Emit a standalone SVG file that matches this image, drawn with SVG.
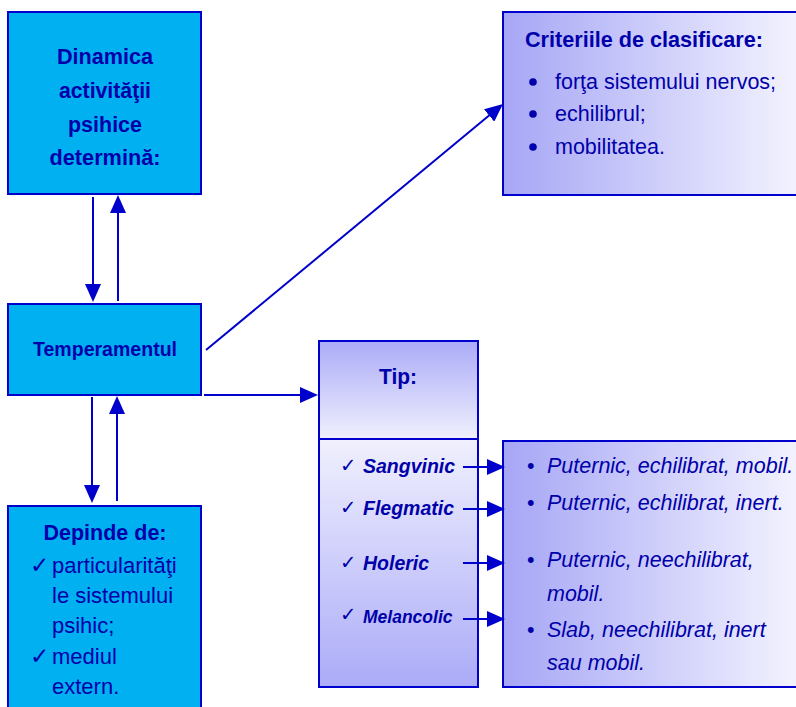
<svg xmlns="http://www.w3.org/2000/svg" width="796" height="707" viewBox="0 0 796 707">
<defs>
<linearGradient id="gh" x1="0" y1="0" x2="1" y2="0"><stop offset="0" stop-color="#A6A6F6"/><stop offset="1" stop-color="#F4F4FF"/></linearGradient>
<linearGradient id="gvDown" x1="0" y1="0" x2="0" y2="1"><stop offset="0" stop-color="#ABABF8"/><stop offset="1" stop-color="#F0F0FE"/></linearGradient>
<linearGradient id="gvUp" x1="0" y1="0" x2="0" y2="1"><stop offset="0" stop-color="#F0F0FE"/><stop offset="1" stop-color="#ABABF8"/></linearGradient>
<marker id="ah" markerUnits="userSpaceOnUse" markerWidth="18" markerHeight="16" refX="14" refY="8" orient="auto" viewBox="0 0 18 16"><path d="M0,0 L18,8 L0,16 z" fill="#0000CC"/></marker>
</defs>
<style>
.cyan{fill:#00B0F0;stroke:#0000CC;stroke-width:2}
.b{stroke:#0000CC;stroke-width:2}
.t{font-family:"Liberation Sans",Arial,sans-serif;fill:#0000AA}
.bold{font-weight:bold}
.it{font-style:italic}
.ck{font-family:"DejaVu Sans",sans-serif;fill:#0000AA}
.ln{stroke:#0000CC;stroke-width:2;fill:none;marker-end:url(#ah)}
</style>
<rect width="796" height="707" fill="#FFFFFF"/>
<g id="dinamica">
<rect class="cyan" x="8" y="12" width="193" height="182"/>
<g class="t bold" font-size="22.5" text-anchor="middle">
<text x="105" y="64" textLength="96" lengthAdjust="spacingAndGlyphs">Dinamica</text>
<text x="105" y="98" textLength="92" lengthAdjust="spacingAndGlyphs">activităţii</text>
<text x="105" y="132" textLength="74" lengthAdjust="spacingAndGlyphs">psihice</text>
<text x="105" y="165" textLength="111" lengthAdjust="spacingAndGlyphs">determină:</text>
</g>
</g>
<g id="temperamentul">
<rect class="cyan" x="8" y="304" width="193" height="91"/>
<text class="t bold" font-size="21" text-anchor="middle" x="105" y="356" textLength="144" lengthAdjust="spacingAndGlyphs">Temperamentul</text>
</g>
<g id="depinde">
<rect class="cyan" x="8" y="506" width="193" height="210"/>
<text class="t bold" font-size="22.5" text-anchor="middle" x="105" y="540" textLength="123" lengthAdjust="spacingAndGlyphs">Depinde de:</text>
<text class="ck" font-size="23" x="30" y="573">✓</text>
<text class="ck" font-size="23" x="30" y="664">✓</text>
<text class="t" font-size="22"><tspan x="52" y="573">particularităţi</tspan><tspan x="52" y="603">le sistemului</tspan><tspan x="52" y="633">psihic;</tspan><tspan x="52" y="664">mediul</tspan><tspan x="52" y="694">extern.</tspan></text>
</g>
<g id="criterii">
<rect x="503" y="12" width="300" height="183" fill="url(#gh)" class="b"/>
<text class="t bold" font-size="22" x="525" y="47" textLength="238" lengthAdjust="spacingAndGlyphs">Criteriile de clasificare:</text>
<circle cx="533" cy="82" r="3.8" fill="#0000AA"/>
<circle cx="533" cy="114" r="3.8" fill="#0000AA"/>
<circle cx="533" cy="147" r="3.8" fill="#0000AA"/>
<text class="t" font-size="21.5"><tspan x="555" y="89">forţa sistemului nervos;</tspan><tspan x="555" y="121">echilibrul;</tspan><tspan x="555" y="154">mobilitatea.</tspan></text>
</g>
<g id="tip">
<rect x="319" y="341" width="159" height="98" fill="url(#gvDown)" class="b"/>
<rect x="319" y="439" width="159" height="248" fill="url(#gvUp)" class="b"/>
<text class="t bold" font-size="22" text-anchor="middle" x="398" y="384" textLength="38" lengthAdjust="spacingAndGlyphs">Tip:</text>
<text class="ck" font-size="19.5"><tspan x="340" y="472">✓</tspan><tspan x="340" y="514">✓</tspan><tspan x="340" y="569">✓</tspan><tspan x="340" y="621">✓</tspan></text>
<text class="t bold it" font-size="19.5"><tspan x="363" y="473">Sangvinic</tspan><tspan x="363" y="515">Flegmatic</tspan><tspan x="363" y="570">Holeric</tspan></text>
<text class="t bold it" font-size="17.5" x="363" y="623">Melancolic</text>
</g>
<g id="descriere">
<rect x="503" y="441" width="300" height="246" fill="url(#gh)" class="b"/>
<text class="t" font-size="21.5"><tspan x="527" y="473">•</tspan><tspan x="527" y="510">•</tspan><tspan x="527" y="567">•</tspan><tspan x="527" y="637">•</tspan></text>
<text class="t it" font-size="21.5"><tspan x="547" y="473">Puternic, echilibrat, mobil.</tspan><tspan x="547" y="510">Puternic, echilibrat, inert.</tspan><tspan x="547" y="567">Puternic, neechilibrat,</tspan><tspan x="547" y="601">mobil.</tspan><tspan x="547" y="637">Slab, neechilibrat, inert</tspan><tspan x="547" y="670">sau mobil.</tspan></text>
</g>
<g id="connectors">
<line class="ln" x1="93" y1="197" x2="93" y2="298"/>
<line class="ln" x1="118" y1="301" x2="118" y2="199"/>
<line class="ln" x1="92" y1="397" x2="92" y2="499"/>
<line class="ln" x1="117" y1="501" x2="117" y2="400"/>
<line class="ln" x1="206" y1="350" x2="499.9" y2="106.6"/>
<line class="ln" x1="204" y1="395" x2="314" y2="395"/>
<line class="ln" x1="463" y1="467" x2="501" y2="467"/>
<line class="ln" x1="463" y1="509" x2="501" y2="509"/>
<line class="ln" x1="463" y1="563" x2="501" y2="563"/>
<line class="ln" x1="463" y1="619" x2="501" y2="619"/>
</g>
</svg>
